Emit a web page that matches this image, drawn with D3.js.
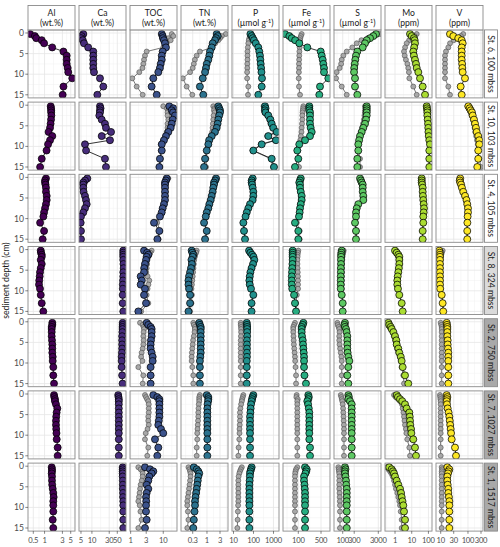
<!DOCTYPE html>
<html><head><meta charset="utf-8">
<script src="https://cdn.jsdelivr.net/npm/d3@7"></script>
<style>body{margin:0;background:#fff}svg{font-family:Lato,"Open Sans",sans-serif}</style>
</head><body>
<script>
// ---------- DATA ----------
const variables = ["Al","Ca","TOC","TN","P","Fe","S","Mo","V"];
const units = ["(wt.%)","(wt.%)","(wt.%)","(wt.%)","(µmol g|-1|)","(µmol g|-1|)","(µmol g|-1|)","(ppm)","(ppm)"];
const stations = ["St. 6, 100 mbss","St. 10, 103 mbss","St. 4, 105 mbss","St. 8, 324 mbss","St. 2, 750 mbss","St. 7, 1027 mbss","St. 1, 1517 mbss"];
const depths = [0.25,0.75,1.25,1.75,2.5,3.5,4.5,5.5,6.5,7.5,8.5,9.5,11,13,15];
const depthTicks = [0,5,10,15];
const xTicks = [[0.5,1,3,5],[5,10,30,50],[1,3,10],[0.3,1,3],[10,100,1000],[100,500],[100,300,3000],[1,10,100],[10,30,100,300]];
const xDomains = [[0.3606,6.51],[4.41,86.9],[0.955,26.4],[0.1117,5.89],[8.41,1884],[33.8,944],[43.5,3882],[0.251,163.7],[6.73,355]];

// colored series: [Al, Ca, TOC, TN, P, Fe, S, Mo, V]
const st6 = [
 [0.41,0.55,0.6,0.84,0.97,1.6,3.2,3.9,3.9,3.9,4.15,4.3,5.5,3.2,3.05],
 [5.8,5.2,5.0,5.6,6.05,7.9,10.9,10.9,10.9,10.9,10.9,11.4,16.7,20.6,14.1],
 [9.0,9.6,9.8,10.5,11.3,12.1,9.6,9.0,9.0,8.35,7.9,7.05,4.95,4.4,6.3],
 [2.27,2.47,2.14,1.96,1.62,1.49,1.29,1.22,1.12,0.98,0.92,0.85,0.70,0.55,0.73],
 [70,81,92,105,130,174,195,211,220,229,240,250,266,257,174],
 [39,53,63,80,107,189,489,525,563,588,617,617,838,465,442],
 [2410,1860,1360,990,840,676,404,356,333,315,300,295,324,324,404],
 [7.9,10,13.5,15,15.7,14,12.4,13.5,15.7,18,19.9,24.8,31.3,45.4,62.4],
 [21.9,29,44,58.8,64,58.8,58.8,58.8,58.8,61,62,64,77.6,54,58.8]];
const st6Grey = [null,null,
 [18.2,20.3,14.3,16.9,12.8,10.0,3.1,2.75,2.57,2.44,2.3,1.84,1.12,1.53,2.34],
 [4.9,3.5,3.0,2.6,2.0,1.5,0.55,0.42,0.36,0.33,0.30,0.24,0.13,0.18,0.29],
 [75,70,62,58,55,52,50,50,50,49,49,48,48,55,53],
 [127,120,115,113,112,110,108,107,106,105,105,104,103,105,113],
 [3500,2000,1100,600,381,250,147,106,91,86,75,56,53,91,147],
 [19.9,15,10,7,5.0,4.0,3.45,3.8,4.5,5.5,6.2,6.8,7.2,12.4,19.9],
 [67,55,40,30,22,19,15.6,14.4,14.4,14.4,14.4,14.4,14.4,19,21.9]];

const st10 = [
 [1.46,1.49,1.5,1.5,1.52,1.49,1.45,1.40,1.28,1.61,1.40,1.24,1.13,0.84,0.76],
 [16.7,17.3,16.7,16.7,16.0,18.6,22.9,24.4,33.6,18.6,31.5,6.45,6.9,22.9,24.4],
 [15.3,20.3,18.2,20,22.9,19.5,18.2,16.9,14.3,12.1,10.5,9.0,9.0,7.9,7.6],
 [2.6,2.8,3.0,3.0,2.8,2.6,2.45,2.27,1.96,1.49,1.2,1.12,0.98,0.85,0.78],
 [376,400,376,400,550,700,813,977,1445,550,1333,257,98,813,1059],
 [218,218,218,229,229,229,229,240,258,229,161,107,93,100,79],
 [991,991,991,991,991,927,842,716,614,523,480,444,444,404,404],
 [79,82,86,86,86,90,95,98,100,105,113,124,113,113,113],
 [103,115,126,140,149,166,181,196,208,238,259,259,238,238,219]];
const st10Grey = [null,null,
 [10,12.8,14.3,13.5,13.5,14.3,13.5,13.5,12.8,12,10,8.5,8.5,8.3,8.0],
 [1.7,1.9,1.8,1.9,1.75,1.7,1.65,1.6,1.55,1.45,1.3,1.15,1.0,0.95,0.92],
 [320,340,330,350,470,600,700,850,1250,480,1150,230,90,720,950],
 [143,140,138,135,133,133,130,127,125,120,115,107,100,100,105],
 [842,880,860,840,800,760,700,640,570,510,470,440,450,523,523],
 [72,76,80,82,84,88,92,95,98,102,110,118,110,108,108],
 [95,105,115,125,135,150,165,175,185,200,215,230,230,260,300]];

const st4 = [
 [1.09,1.03,1.03,1.06,1.09,1.09,1.14,1.14,1.09,1.03,0.97,0.93,0.76,0.97,0.89],
 [7.46,6.45,5.78,5.78,5.78,5.9,6.45,6.87,7.18,6.45,5.78,5.0,4.91,5.0,5.0],
 [12.8,12.1,11.3,11.3,11.3,11.3,11.3,11.3,10.5,9.6,8.96,7.9,5.2,7.6,6.6],
 [2.14,2.0,1.81,1.81,1.7,1.62,1.49,1.37,1.22,1.12,0.98,0.9,0.78,0.98,0.85],
 [91,81,81,85,91,98,98,91,67,55,46,40,31,33.5,37.6],
 [119,113,107,113,113,119,127,127,119,113,110,105,79,100,100],
 [523,570,614,676,676,676,716,716,444,381,356,356,324,356,356],
 [39.6,39.6,39.6,42,45.4,45.4,47,49.3,52,54.3,52,49.3,49.3,45.4,45.4],
 [52,50,52,56,60,67,78,88,94,100,100,97,95,94,94]];
const st4Grey = [null,null,
 [14.3,13,12,11.8,11.8,11.8,11.8,11.5,11,10,9.3,8.3,6.5,8,7.2],
 [2.3,2.1,1.9,1.85,1.75,1.65,1.5,1.4,1.25,1.15,1.02,0.95,0.82,1.0,0.9],
 [95,85,85,88,93,100,100,93,70,58,48,42,34,35,40],
 [113,110,108,110,110,115,122,122,115,110,107,102,90,110,110],
 [560,600,640,680,680,690,700,690,460,400,370,365,340,370,370],
 [36,37,38,40,43,44,46,48,50,52,50,48,48,44,44],
 [50,48,50,54,58,64,75,85,90,96,96,93,92,92,92]];

const st8 = [
 [0.79,0.8,0.84,0.84,0.79,0.84,0.79,0.755,0.74,0.72,0.71,0.755,0.79,0.84,0.925],
 [73,73,73,73,73,74,75,73,73,72,71,71,70.5,70.5,73],
 [2.57,3.2,3.48,3.1,2.96,2.75,2.6,2.57,2.03,2.2,2.03,2.75,2.57,2.96,1.72],
 [0.275,0.29,0.315,0.3,0.27,0.28,0.26,0.24,0.22,0.21,0.21,0.22,0.24,0.24,0.21],
 [60,70,85,100,110,95,80,70,65,62,65,75,98,80,80],
 [67,67,67,67,67,66,65,64,63,63,63,65,74,79,85],
 [91,88,86,86,85,85,84,84,83,83,83,83,91,100,100],
 [1.0,1.26,1.57,1.8,1.8,1.8,1.7,1.57,1.45,1.37,1.37,1.5,1.8,2.51,2.88],
 [8.9,9.2,9.4,9.4,9.4,9.4,9.4,9.4,9.4,9.4,9.4,9.6,10.9,11.8,12.4]];
const st8Grey = [null,null,
 [4.4,4.0,3.8,3.5,3.3,3.2,3.1,3.0,3.3,3.73,3.5,3.3,3.1,3.48,2.1],
 [0.42,0.4,0.37,0.36,0.34,0.33,0.32,0.31,0.3,0.29,0.28,0.27,0.28,0.27,0.24],
 [58,66,80,95,105,90,76,67,62,60,62,72,92,76,76],
 [100,97,95,95,94,94,95,96,97,98,98,98,90,85,88],
 [110,105,100,98,96,95,94,94,93,93,92,92,95,103,103],
 [1.1,1.35,1.65,1.85,1.9,1.85,1.75,1.65,1.5,1.42,1.42,1.55,1.85,2.6,2.95],
 [11.8,11,10.5,10.2,10,10,10,10,10,10,10,10.2,11.3,12,12.6]];

const st2 = [
 [1.61,1.61,1.55,1.55,1.55,1.55,1.58,1.61,1.61,1.61,1.65,1.65,1.71,1.71,1.79],
 [70.5,70.5,70,70,69,68,68,68,68,67,66,66,66,68,70],
 [3.1,3.48,4.1,4.4,4.4,4.4,4.2,4.1,4.1,4.4,4.74,4.74,4.1,4.1,4.1],
 [0.52,0.55,0.59,0.59,0.59,0.59,0.59,0.59,0.59,0.59,0.57,0.55,0.55,0.55,0.55],
 [46,47,48,48,48,48,47,47,47,47,47,46,46,46,46],
 [143,137,127,127,127,130,137,140,143,147,150,150,150,155,172],
 [124,118,124,137,145,155,155,155,155,160,171,188,171,155,171],
 [0.4,0.45,0.55,0.63,0.8,1.0,1.2,1.26,1.57,1.8,2.2,2.5,2.88,3.96,6.2],
 [16.6,17,17.5,17.5,17.5,17.5,18,18,18.5,19,19,19,19,19,19]];
const st2Grey = [null,null,
 [1.94,2.34,2.5,2.57,2.5,2.45,2.5,2.45,2.34,2.18,2.1,2.3,1.72,2.44,2.34],
 [0.315,0.33,0.36,0.36,0.35,0.33,0.31,0.3,0.29,0.28,0.275,0.275,0.29,0.315,0.315],
 [23,23,24,24,24,23.5,23,23,23,23,23,23,23,23,23],
 [79,74,70,70,70,71,72,73,75,77,79,80,82,85,85],
 [60,62,68,72,74,72,72,74,78,83,88,91,91,91,91],
 [0.32,0.38,0.5,0.65,0.73,0.85,1.0,1.15,1.3,1.57,1.99,2.3,2.51,3.13,3.45],
 [10,10.5,10.9,10.9,10.9,10.9,10.9,10.9,10.9,10.9,10.9,10.9,10.9,10.9,10.9]];

const st7 = [
 [1.79,1.82,1.9,1.9,2.02,2.19,2.1,2.05,2.02,2.02,2.05,2.08,2.11,2.24,2.24],
 [53,54,55,55,55,55,55,55,55,55,55,55,55,55,55],
 [4.95,6.56,7.6,7.6,7.6,7.6,7.6,7.6,7.3,7.05,8.5,10,5.58,7.05,6.56],
 [0.98,1.12,1.12,1.1,1.05,1.03,1.03,1.03,1.03,1.03,1.03,1.03,1.03,1.03,1.03],
 [98,90,85,81,75,72,70,67,67,67,67,67,67,67,67],
 [203,210,203,189,200,210,218,218,218,218,218,218,218,229,229],
 [171,180,171,201,236,236,236,236,236,236,236,236,236,236,236],
 [1.26,1.5,1.99,2.7,3.96,5.0,7.2,7.6,7.9,8.2,9.1,9.5,12.4,15.7,18],
 [16.6,17.5,17,16.6,17,18,19.5,20.7,21.5,22.3,23.2,24,25.3,33.4,36.4]];
const st7Grey = [null,null,
 [2.75,2.96,3.2,3.48,3.6,3.6,3.6,3.48,3.48,3.6,3.3,2.9,2.75,3.48,3.23],
 [0.55,0.52,0.52,0.52,0.5,0.49,0.48,0.48,0.47,0.46,0.45,0.44,0.44,0.42,0.42],
 [31,29,27,26,24,22,21,21,21,20.5,20,20,19.5,18,17.4],
 [89,87,96,93,93,93,93,93,93,93,93,93,93,93,93],
 [83,88,92,96,100,104,106,108,110,112,113,113,113,113,113],
 [0.87,1.1,1.57,2.0,2.6,2.88,3.2,3.45,3.7,3.96,4.5,4.8,5.4,7.2,7.9],
 [9.4,9.6,9.8,10,10,10,10,10,10,10,10,10,10,10,10]];

const st1 = [
 [1.55,1.58,1.58,1.55,1.58,1.58,1.6,1.65,1.71,1.75,1.71,1.71,1.71,1.65,1.71],
 [70.5,70.5,70.5,70.5,70.5,71,71,71,72,72,73,73,73,73,73],
 [2.75,3.92,4.95,4.4,3.73,3.48,3.1,3.48,3.1,2.96,3.0,2.96,2.96,3.1,2.75],
 [0.33,0.42,0.48,0.52,0.48,0.46,0.44,0.42,0.4,0.38,0.364,0.364,0.35,0.33,0.315],
 [81,75,70,67,66,64,62,62,62,62,62,62,62,62,62],
 [161,181,175,165,150,150,155,158,161,161,161,161,161,161,161],
 [124,130,124,124,130,137,140,147,147,147,147,147,147,147,147],
 [0.45,0.63,0.75,0.87,1.0,1.26,1.57,1.99,2.3,2.51,2.8,3.13,3.45,3.96,3.96],
 [17.5,20.7,19.5,18.5,17.5,17.5,18,19,19,20,20.7,20.7,20.7,20.7,20.7]];
const st1Grey = [null,null,
 [1.72,2.03,2.3,2.34,2.34,2.2,2.03,1.95,1.88,1.8,1.72,1.9,2.0,2.18,1.72],
 [0.21,0.23,0.24,0.25,0.25,0.24,0.23,0.22,0.21,0.2,0.19,0.19,0.2,0.21,0.19],
 [26,23,21,19.5,18,17.4,17.4,17.4,17.4,17.4,17.4,17,16.5,16,15.5],
 [93,85,82,80,79,79,79,79,79,79,79,79,79,79,79],
 [66,68,70,72,72,72,72,72,74,75,76,77,77,77,77],
 [0.32,0.4,0.5,0.6,0.73,0.87,1.0,1.14,1.37,1.57,1.8,1.99,2.2,2.51,2.51],
 [10.9,11.3,10.9,10.9,10.9,10.9,10.9,10.9,10.9,10.9,10.9,10.9,10.9,10.9,10.9]];

const stationSeries = [st6, st10, st4, st8, st2, st7, st1];
const stationGrey = [st6Grey, st10Grey, st4Grey, st8Grey, st2Grey, st7Grey, st1Grey];

// ---------- LAYOUT / STYLE ----------
const W = 500, H = 547;
const colX0 = 28, colStep = 51, panelW = 47;
const rowY0 = 29.9, rowStep = 72.2, panelH = 68;
const colors = ["#440154","#472D7B","#3B528B","#2C728E","#21908C","#27AD81","#5DC863","#AADC32","#FDE725"];
const stripFill = ["#ffffff","#ffffff","#ffffff","#dadada","#a9a9a9","#a9a9a9","#a9a9a9"];
const borderCol = "#8a8a8a";

const svg = d3.select("body").append("svg").attr("width", W).attr("height", H);
const defs = svg.append("defs");

function minorBreaks(majors, log) {
  const t = majors.map(v => log ? Math.log10(v) : v);
  const ext = [t[0] - (t[1] - t[0]), ...t, t[t.length-1] + (t[t.length-1] - t[t.length-2])];
  const out = [];
  for (let i = 0; i < ext.length - 1; i++) {
    const m = (ext[i] + ext[i+1]) / 2;
    out.push(log ? Math.pow(10, m) : m);
  }
  return out;
}

const yMinor = [2.5, 7.5, 12.5];

stations.forEach((st, r) => {
  const top = rowY0 + r * rowStep;
  const y = d3.scaleLinear().domain([-0.75, 15.75]).range([top, top + panelH]);
  variables.forEach((v, c) => {
    const x0 = colX0 + c * colStep;
    const x = d3.scaleLog().domain(xDomains[c]).range([x0, x0 + panelW]);
    const g = svg.append("g");
    const id = `clip-${r}-${c}`;
    defs.append("clipPath").attr("id", id).append("rect")
      .attr("x", x0).attr("y", top).attr("width", panelW).attr("height", panelH);
    g.append("rect").attr("x", x0).attr("y", top).attr("width", panelW).attr("height", panelH).attr("fill", "#fff");
    const grid = g.append("g").attr("clip-path", `url(#${id})`);
    const [d0, d1] = xDomains[c];
    const inX = t => t >= d0 && t <= d1;
    minorBreaks(xTicks[c], true).filter(inX).forEach(t => {
      grid.append("line").attr("x1", x(t)).attr("x2", x(t)).attr("y1", top).attr("y2", top + panelH)
        .attr("stroke", "#f1f1f1").attr("stroke-width", 0.5);
    });
    yMinor.forEach(t => {
      grid.append("line").attr("x1", x0).attr("x2", x0 + panelW).attr("y1", y(t)).attr("y2", y(t))
        .attr("stroke", "#f1f1f1").attr("stroke-width", 0.5);
    });
    xTicks[c].filter(inX).forEach(t => {
      grid.append("line").attr("x1", x(t)).attr("x2", x(t)).attr("y1", top).attr("y2", top + panelH)
        .attr("stroke", "#e6e6e6").attr("stroke-width", 0.8);
    });
    depthTicks.forEach(t => {
      grid.append("line").attr("x1", x0).attr("x2", x0 + panelW).attr("y1", y(t)).attr("y2", y(t))
        .attr("stroke", "#e6e6e6").attr("stroke-width", 0.8);
    });

    const marks = g.append("g").attr("clip-path", `url(#${id})`);
    const line = d3.line().x(d => x(d.v)).y(d => y(d.d));
    const grey = stationGrey[r][c];
    if (grey) {
      const gd = grey.map((val, i) => ({ v: val, d: depths[i] }));
      marks.append("path").attr("d", line(gd)).attr("fill", "none").attr("stroke", "#4a4a4a").attr("stroke-width", 0.75);
      marks.selectAll("circle.g").data(gd).join("circle").attr("class", "g")
        .attr("cx", d => x(d.v)).attr("cy", d => y(d.d)).attr("r", 2.5)
        .attr("fill", "#a8a8a8").attr("stroke", "#4d4d4d").attr("stroke-width", 0.6);
    }
    const cd = stationSeries[r][c].map((val, i) => ({ v: val, d: depths[i] }));
    marks.append("path").attr("d", line(cd)).attr("fill", "none").attr("stroke", "#111").attr("stroke-width", 0.85);
    marks.selectAll("circle.c").data(cd).join("circle").attr("class", "c")
      .attr("cx", d => x(d.v)).attr("cy", d => y(d.d)).attr("r", 3.5)
      .attr("fill", colors[c]).attr("stroke", "#000").attr("stroke-width", 0.75);

    g.append("rect").attr("x", x0).attr("y", top).attr("width", panelW).attr("height", panelH)
      .attr("fill", "none").attr("stroke", borderCol).attr("stroke-width", 0.9);

    // y axis on first column
    if (c === 0) {
      depthTicks.forEach(t => {
        svg.append("line").attr("x1", x0 - 2.7).attr("x2", x0).attr("y1", y(t)).attr("y2", y(t))
          .attr("stroke", "#333").attr("stroke-width", 0.6);
        svg.append("text").attr("x", x0 - 4).attr("y", y(t)).attr("dy", "0.35em")
          .attr("text-anchor", "end").attr("font-size", 8.6).attr("fill", "#4d4d4d").text(t);
      });
    }
    // x axis on last row
    if (r === stations.length - 1) {
      xTicks[c].forEach(t => {
        svg.append("line").attr("x1", x(t)).attr("x2", x(t)).attr("y1", top + panelH).attr("y2", top + panelH + 2.7)
          .attr("stroke", "#333").attr("stroke-width", 0.6);
        svg.append("text").attr("x", x(t)).attr("y", top + panelH + 11.5)
          .attr("text-anchor", "middle").attr("font-size", 7.6).attr("letter-spacing", -0.2)
          .attr("fill", "#4d4d4d").text(t);
      });
    }
  });
  // right strip
  const sx = colX0 + 8 * colStep + panelW + 1.5;
  svg.append("rect").attr("x", sx).attr("y", top).attr("width", 13).attr("height", panelH)
    .attr("fill", stripFill[r]).attr("stroke", borderCol).attr("stroke-width", 0.9);
  svg.append("text").attr("transform", `translate(${sx + 6.5},${top + panelH / 2}) rotate(90)`)
    .attr("text-anchor", "middle").attr("dy", "0.35em").attr("font-size", 8.6).attr("fill", "#1a1a1a").text(st);
});

// top strips
variables.forEach((v, c) => {
  const x0 = colX0 + c * colStep;
  svg.append("rect").attr("x", x0).attr("y", 5.5).attr("width", panelW).attr("height", rowY0 - 5.5)
    .attr("fill", "#fff").attr("stroke", borderCol).attr("stroke-width", 0.9);
  svg.append("text").attr("x", x0 + panelW / 2).attr("y", 15.5).attr("text-anchor", "middle")
    .attr("font-size", 8.6).attr("fill", "#1a1a1a").text(v);
  const parts = units[c].split("|");
  const t = svg.append("text").attr("x", x0 + panelW / 2).attr("y", 26).attr("text-anchor", "middle")
    .attr("font-size", 8.6).attr("fill", "#1a1a1a");
  t.append("tspan").text(parts[0]);
  if (parts.length > 1) {
    t.append("tspan").attr("font-size", 5.5).attr("dy", -3).text(parts[1]);
    t.append("tspan").attr("dy", 3).text(parts[2]);
  }
});

// y title
svg.append("text").attr("transform", `translate(9,${rowY0 + (6 * rowStep + panelH) / 2}) rotate(-90)`)
  .attr("text-anchor", "middle").attr("font-size", 8.6).attr("fill", "#1a1a1a").text("sediment depth (cm)");
</script>
</body></html>
